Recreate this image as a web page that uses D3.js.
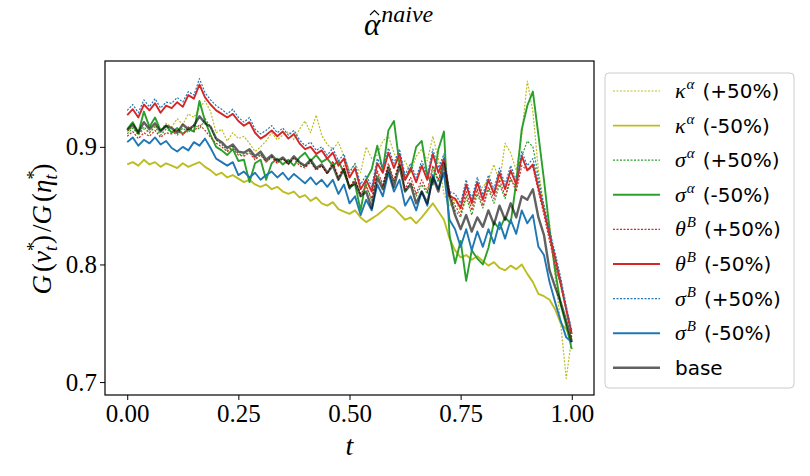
<!DOCTYPE html>
<html>
<head>
<meta charset="utf-8">
<script src="https://cdn.jsdelivr.net/npm/d3@7"></script>
<style>
  body { margin: 0; background: #fff; }
  svg { display: block; }
</style>
</head>
<body>
<script>
// time grid: 81 samples on [0, 1]
var tValues = d3.range(81).map(function(i) { return i / 80; });

var kappaPlus = [0.913,0.917,0.910,0.915,0.912,0.918,0.914,0.920,0.917,
  0.924,0.919,0.928,0.925,0.933,0.939,0.930,0.912,0.915,0.905,0.912,0.907,
  0.909,0.903,0.896,0.900,0.905,0.912,0.906,0.910,0.913,0.906,0.915,0.922,0.912,0.927,0.910,0.902,
  0.898,0.904,0.892,0.880,0.885,0.878,0.900,0.890,0.893,0.905,0.909,0.895,0.885,0.888,0.878,0.892,
  0.898,0.888,0.909,0.890,0.860,0.850,0.855,0.845,0.855,0.850,0.862,0.866,0.872,0.885,0.870,0.903,
  0.895,0.880,0.910,0.956,0.930,0.880,0.850,0.835,0.790,0.750,0.703,0.738];

var kappaMinus = [0.885,0.887,0.884,0.889,0.885,0.887,0.883,0.886,0.884,
  0.882,0.886,0.883,0.885,0.887,0.883,0.880,0.876,0.878,0.874,0.876,0.873,
  0.870,0.872,0.868,0.866,0.868,0.864,0.866,0.862,0.860,0.862,0.857,0.859,0.854,0.857,0.852,0.850,
  0.853,0.847,0.845,0.843,0.846,0.840,0.836,0.839,0.842,0.846,0.850,0.848,0.843,0.838,0.840,0.835,
  0.840,0.846,0.852,0.845,0.838,0.822,0.812,0.806,0.808,0.804,0.807,0.803,0.799,0.802,0.797,0.795,
  0.799,0.796,0.800,0.792,0.785,0.775,0.773,0.770,0.762,0.750,0.745,0.736];

var sigmaAPlus = [0.911,0.916,0.910,0.917,0.912,0.917,0.910,0.915,0.913,
  0.910,0.916,0.912,0.919,0.915,0.924,0.917,0.906,0.902,0.897,0.900,0.894,
  0.893,0.896,0.890,0.894,0.887,0.892,0.886,0.890,0.885,0.891,0.886,0.883,0.888,0.881,0.884,0.877,
  0.886,0.872,0.882,0.864,0.874,0.858,0.868,0.854,0.878,0.866,0.884,0.870,0.886,0.862,0.870,0.858,
  0.868,0.860,0.882,0.870,0.892,0.860,0.846,0.840,0.858,0.842,0.860,0.848,0.864,0.852,0.868,0.856,
  0.872,0.866,0.892,0.905,0.900,0.875,0.848,0.824,0.800,0.782,0.760,0.738];

var sigmaAMinus = [0.915,0.921,0.912,0.930,0.917,0.925,0.914,0.918,0.912,
  0.916,0.911,0.915,0.913,0.939,0.922,0.910,0.900,0.897,0.893,0.898,0.888,
  0.889,0.870,0.886,0.889,0.872,0.886,0.890,0.885,0.889,0.884,0.891,0.895,0.888,0.893,0.887,0.890,
  0.884,0.888,0.878,0.866,0.868,0.846,0.872,0.881,0.901,0.880,0.914,0.922,0.885,0.872,0.880,0.900,
  0.905,0.876,0.868,0.898,0.913,0.825,0.801,0.820,0.786,0.812,0.805,0.800,0.814,0.836,0.830,0.840,
  0.835,0.870,0.915,0.935,0.947,0.910,0.872,0.830,0.795,0.766,0.748,0.728];

var thetaPlus = [0.909,0.913,0.907,0.912,0.909,0.914,0.908,0.912,0.911,
  0.914,0.910,0.917,0.913,0.919,0.914,0.908,0.903,0.900,0.896,0.899,0.893,
  0.892,0.895,0.889,0.893,0.887,0.891,0.886,0.890,0.885,0.890,0.884,0.882,0.887,0.880,0.884,0.877,
  0.888,0.874,0.884,0.866,0.872,0.860,0.866,0.856,0.880,0.868,0.886,0.872,0.888,0.864,0.874,0.860,
  0.872,0.862,0.884,0.872,0.890,0.862,0.850,0.842,0.862,0.846,0.864,0.850,0.866,0.856,0.872,0.858,
  0.874,0.862,0.884,0.880,0.883,0.862,0.842,0.820,0.800,0.782,0.762,0.742];

var thetaMinus = [0.927,0.932,0.925,0.936,0.931,0.937,0.929,0.935,0.933,
  0.938,0.934,0.944,0.941,0.953,0.942,0.936,0.931,0.928,0.925,0.928,0.922,
  0.918,0.921,0.912,0.907,0.910,0.914,0.909,0.913,0.907,0.911,0.903,0.898,0.900,0.894,0.897,0.890,
  0.895,0.884,0.890,0.874,0.882,0.864,0.872,0.862,0.886,0.878,0.895,0.882,0.894,0.872,0.882,0.870,
  0.884,0.872,0.894,0.878,0.890,0.858,0.856,0.848,0.868,0.852,0.870,0.855,0.872,0.860,0.878,0.864,
  0.880,0.868,0.892,0.880,0.885,0.865,0.846,0.825,0.806,0.785,0.762,0.741];

var sigmaBPlus = [0.931,0.936,0.929,0.940,0.934,0.941,0.933,0.938,0.937,
  0.942,0.938,0.947,0.944,0.958,0.946,0.940,0.935,0.932,0.928,0.932,0.925,
  0.921,0.925,0.915,0.911,0.914,0.918,0.912,0.916,0.910,0.914,0.906,0.901,0.904,0.897,0.900,0.893,
  0.899,0.888,0.894,0.878,0.886,0.868,0.876,0.866,0.890,0.882,0.899,0.886,0.898,0.876,0.886,0.874,
  0.888,0.876,0.898,0.882,0.894,0.862,0.860,0.852,0.872,0.856,0.874,0.859,0.876,0.864,0.882,0.868,
  0.884,0.872,0.896,0.884,0.890,0.870,0.850,0.829,0.810,0.789,0.765,0.744];

var sigmaBMinus = [0.904,0.908,0.901,0.906,0.903,0.908,0.902,0.905,0.899,
  0.896,0.900,0.897,0.904,0.901,0.907,0.899,0.890,0.887,0.884,0.887,0.876,
  0.879,0.874,0.878,0.872,0.876,0.879,0.874,0.878,0.872,0.877,0.873,0.869,0.874,0.868,0.872,0.866,
  0.872,0.860,0.868,0.852,0.858,0.842,0.855,0.846,0.868,0.858,0.878,0.862,0.872,0.850,0.858,0.846,
  0.862,0.850,0.876,0.864,0.878,0.838,0.830,0.815,0.830,0.812,0.828,0.815,0.830,0.818,0.836,0.822,
  0.838,0.826,0.846,0.835,0.842,0.815,0.808,0.785,0.768,0.752,0.738,0.734];

var baseValues = [0.914,0.919,0.912,0.921,0.915,0.920,0.913,0.918,0.916,
  0.912,0.919,0.915,0.918,0.926,0.920,0.917,0.907,0.904,0.899,0.902,0.896,
  0.895,0.898,0.892,0.896,0.889,0.893,0.888,0.891,0.886,0.892,0.887,0.884,0.889,0.882,0.885,0.878,
  0.884,0.872,0.881,0.865,0.870,0.858,0.862,0.848,0.874,0.864,0.882,0.866,0.884,0.862,0.868,0.852,
  0.862,0.852,0.874,0.862,0.886,0.858,0.842,0.830,0.842,0.828,0.840,0.832,0.846,0.834,0.850,0.838,
  0.852,0.840,0.858,0.855,0.864,0.840,0.825,0.795,0.781,0.768,0.752,0.734];

var seriesNames = ["kappaPlus","kappaMinus","sigmaAPlus","sigmaAMinus","thetaPlus",
                   "thetaMinus","sigmaBPlus","sigmaBMinus","base"];
var seriesData = [kappaPlus, kappaMinus, sigmaAPlus, sigmaAMinus, thetaPlus,
                  thetaMinus, sigmaBPlus, sigmaBMinus, baseValues];
var legendSymbols = ["κ","κ","σ","σ","θ","θ","σ","σ",""];
var legendSups = ["α","α","α","α","B","B","B","B",""];
var legendTails = ["(+50%)","(-50%)","(+50%)","(-50%)","(+50%)","(-50%)","(+50%)","(-50%)","base"];

var xTicks = [0, 0.25, 0.5, 0.75, 1.0];
var yTicks = [0.7, 0.8, 0.9];

// styling per series
var colors = ["#bcbd22","#bcbd22","#2ca02c","#2ca02c","#d62728","#d62728","#1f77b4","#1f77b4","#000000"];
var dashed = [true,false,true,false,true,false,true,false,false];

var W = 810, H = 476;
var margin = {top: 61, right: 216, bottom: 81, left: 105};
var width = W - margin.left - margin.right,
    height = H - margin.top - margin.bottom;

var serif = "'Liberation Serif', 'DejaVu Serif', serif";
var sans = "'DejaVu Sans', 'Noto Sans', sans-serif";

function strokeW(k) {
  if (seriesNames[k] === "base") return 2.4;
  return dashed[k] ? 1.2 : 1.9;
}

var svg = d3.select("body").append("svg")
    .attr("width", W)
    .attr("height", H);

var g = svg.append("g")
    .attr("transform", "translate(" + margin.left + "," + margin.top + ")");

var x = d3.scaleLinear().domain([-0.05, 1.05]).range([0, width]);
var y = d3.scaleLinear().domain([0.689, 0.973]).range([height, 0]);

g.append("defs").append("clipPath").attr("id", "clip")
  .append("rect").attr("width", width).attr("height", height);

var line = d3.line()
    .x(function(d, i) { return x(tValues[i]); })
    .y(function(d) { return y(d); });

var lines = g.append("g").attr("clip-path", "url(#clip)");
seriesData.forEach(function(vals, k) {
  var isBase = seriesNames[k] === "base";
  lines.append("path")
    .datum(vals)
    .attr("fill", "none")
    .attr("stroke", colors[k])
    .attr("stroke-width", strokeW(k))
    .attr("stroke-opacity", isBase ? 0.62 : 1)
    .attr("stroke-dasharray", dashed[k] ? "2,1.5" : null)
    .attr("stroke-linejoin", "round")
    .attr("d", line);
});

// axes
var xAxis = g.append("g")
    .attr("transform", "translate(0," + height + ")")
    .call(d3.axisBottom(x).tickValues(xTicks).tickFormat(d3.format(".2f")).tickSize(5).tickPadding(4));
var yAxis = g.append("g")
    .call(d3.axisLeft(y).tickValues(yTicks).tickFormat(d3.format(".1f")).tickSize(5).tickPadding(3));

[xAxis, yAxis].forEach(function(a) {
  a.select(".domain").remove();
  a.selectAll("line").attr("stroke", "#000").attr("stroke-width", 1);
  a.selectAll("text").attr("font-family", serif).attr("font-size", 25).attr("fill", "#000");
});

g.append("rect")
    .attr("width", width)
    .attr("height", height)
    .attr("fill", "none")
    .attr("stroke", "#000")
    .attr("stroke-width", 1.2);

// title: alpha with superscript, hat accent drawn as a small chevron
var title = svg.append("text")
    .attr("x", 364)
    .attr("y", 35)
    .attr("font-family", serif)
    .attr("font-style", "italic");
title.append("tspan").attr("font-size", 31).text("α");
title.append("tspan").attr("font-size", 24).attr("dy", -13).attr("dx", 1).text("naive");
svg.append("path")
    .attr("d", "M370,15 L374.5,10.5 L379,15")
    .attr("fill", "none")
    .attr("stroke", "#000")
    .attr("stroke-width", 1.1);

// x label
svg.append("text")
    .attr("x", x(0.5) + margin.left)
    .attr("y", 455)
    .attr("text-anchor", "middle")
    .attr("font-family", serif)
    .attr("font-style", "italic")
    .attr("font-size", 28)
    .text("t");

// y label
var ylab = svg.append("text")
    .attr("transform", "translate(51," + 229 + ") rotate(-90)")
    .attr("text-anchor", "middle")
    .attr("font-family", serif)
    .attr("font-size", 27);
ylab.append("tspan").attr("font-style", "italic").text("G");
ylab.append("tspan").attr("dx", 3).text("(");
ylab.append("tspan").attr("font-style", "italic").text("ν");
ylab.append("tspan").attr("font-size", 18).attr("dy", -11).text("*");
ylab.append("tspan").attr("font-size", 18).attr("font-style", "italic").attr("dx", -9).attr("dy", 17).text("t");
ylab.append("tspan").attr("dy", -6).attr("dx", 2).text(")");
ylab.append("tspan").attr("dx", 3).text("/");
ylab.append("tspan").attr("font-style", "italic").text("G");
ylab.append("tspan").attr("dx", 3).text("(");
ylab.append("tspan").attr("font-style", "italic").text("η");
ylab.append("tspan").attr("font-size", 18).attr("dy", -11).text("*");
ylab.append("tspan").attr("font-size", 18).attr("font-style", "italic").attr("dx", -9).attr("dy", 17).text("t");
ylab.append("tspan").attr("dy", -6).attr("dx", 2).text(")");

// legend
var legend = svg.append("g").attr("transform", "translate(605,73)");
legend.append("rect")
    .attr("width", 189)
    .attr("height", 315)
    .attr("rx", 4)
    .attr("fill", "#fff")
    .attr("fill-opacity", 0.8)
    .attr("stroke", "#cccccc")
    .attr("stroke-width", 1);

seriesNames.forEach(function(name, k) {
  var ly = 18 + k * 34.6;
  var row = legend.append("g").attr("transform", "translate(0," + ly + ")");
  var isBase = name === "base";
  row.append("line")
    .attr("x1", 8).attr("x2", 55)
    .attr("stroke", colors[k])
    .attr("stroke-width", strokeW(k))
    .attr("stroke-opacity", isBase ? 0.62 : 1)
    .attr("stroke-dasharray", dashed[k] ? "2,1.5" : null);
  var txt = row.append("text")
    .attr("x", 70)
    .attr("y", 7)
    .attr("font-size", 20)
    .attr("fill", "#000");
  if (legendSymbols[k]) {
    txt.append("tspan").attr("font-family", serif).attr("font-style", "italic").attr("font-size", 22).text(legendSymbols[k]);
    txt.append("tspan").attr("font-family", serif).attr("font-style", "italic").attr("font-size", 15)
      .attr("dy", -9).attr("dx", 1).text(legendSups[k]);
    txt.append("tspan").attr("font-family", sans).attr("dy", 9).attr("dx", 8).text(legendTails[k]);
  } else {
    txt.append("tspan").attr("font-family", sans).text(legendTails[k]);
  }
});
</script>
</body>
</html>
